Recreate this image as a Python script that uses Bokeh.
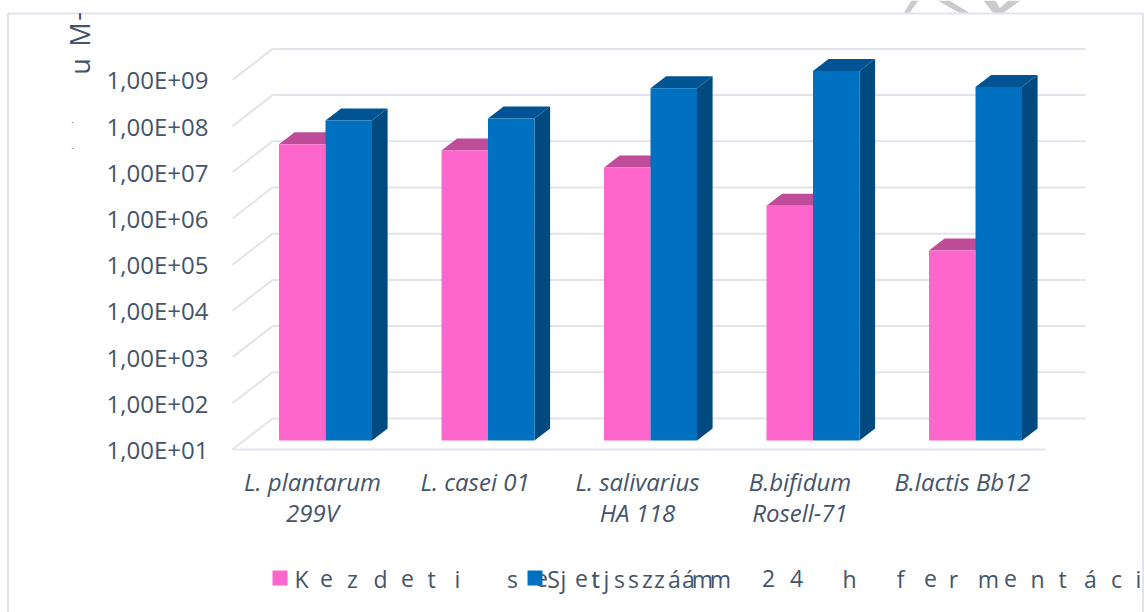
from bokeh.core.properties import value
from bokeh.embed import file_html
from bokeh.models import FixedTicker
from bokeh.plotting import figure
from bokeh.resources import INLINE
import math

# Viable cell counts per strain
strains = ["L. plantarum\n299V", "L. casei 01", "L. salivarius\nHA 118",
           "B.bifidum\nRosell-71", "B.lactis Bb12"]
initial_counts = [2.6e7, 1.9e7, 8.1e6, 1.2e6, 1.3e5]
counts_24h = [8.4e7, 9.3e7, 4.2e8, 1.0e9, 4.5e8]
tick_values = [10, 100, 1000, 10000, 100000, 1000000, 10000000, 100000000, 1000000000]
tick_labels = ["1,00E+01", "1,00E+02", "1,00E+03", "1,00E+04", "1,00E+05",
               "1,00E+06", "1,00E+07", "1,00E+08", "1,00E+09"]

# Spaced-out legend runs: (character, horizontal centre in page pixels)
legend_first = [("K", 301), ("e", 326), ("z", 352), ("d", 380), ("e", 407), ("t", 431), ("i", 457),
                ("s", 512), ("e", 541), ("j", 563), ("t", 595), ("s", 619), ("z", 647), ("á", 674), ("m", 702)]
legend_second = [("S", 553), ("e", 581), ("j", 606), ("t", 595), ("s", 633), ("z", 659), ("á", 688), ("m", 720),
                 ("2", 768), ("4", 796), ("h", 849), ("f", 900), ("e", 930), ("r", 953), ("m", 988),
                 ("e", 1010), ("n", 1037), ("t", 1062), ("á", 1090), ("c", 1116), ("i", 1138)]

W, H = 1144, 612
PX_PER_DECADE = 46.2
FLOOR_PY = 449
CAT_PX = 162.5
CAT0_PX = 312

INK = "#44546A"
GRID = "#E1E5EB"
PINK, PINK_TOP = "#FF66CC", "#BF4C99"
BLUE, BLUE_TOP, BLUE_SIDE = "#0070C0", "#005494", "#004A80"


def xd(px):
    return (px - CAT0_PX) / CAT_PX


def yd(py):
    return 10 ** (1 + (FLOOR_PY - py) / PX_PER_DECADE)


def lift(v, px):
    return v * 10 ** (px / PX_PER_DECADE)


p = figure(width=W, height=H, output_backend="svg", toolbar_location=None, y_axis_type="log",
           x_range=(xd(0), xd(W)), y_range=(yd(H), yd(0)), min_border=0,
           background_fill_color="white", border_fill_color="white")
p.outline_line_color = None
p.grid.visible = False

# Depth geometry of the 3D box, in pixels
WALL_DX, WALL_DY = 40, 31
BAR_DX, BAR_DY = 15.6, 12
BAR_LIFT = 9
BAR_W = 46.5 / CAT_PX
BAR_SHIFT = 13.0 / CAT_PX
BAR_D = BAR_DX / CAT_PX
FLOOR_L, FLOOR_R = 232, 1045

# Gridlines on the back wall with their returns along the side wall
p.segment(x0=[xd(FLOOR_L)] * len(tick_values), y0=tick_values,
          x1=[xd(FLOOR_L + WALL_DX)] * len(tick_values), y1=[lift(v, WALL_DY) for v in tick_values],
          line_color=GRID, line_width=2)
p.segment(x0=[xd(FLOOR_L + WALL_DX)] * len(tick_values), y0=[lift(v, WALL_DY) for v in tick_values],
          x1=[xd(FLOOR_R + WALL_DX)] * len(tick_values), y1=[lift(v, WALL_DY) for v in tick_values],
          line_color=GRID, line_width=2)
# Front edge of the floor
p.segment(x0=[xd(FLOOR_L)], y0=[tick_values[0]], x1=[xd(FLOOR_R)], y1=[tick_values[0]],
          line_color=GRID, line_width=2)


def box(left, top, face, top_face, side=None):
    base = lift(10, BAR_LIFT)
    t = lift(top, BAR_LIFT)
    if side:
        p.patch([left + BAR_W, left + BAR_W + BAR_D, left + BAR_W + BAR_D, left + BAR_W],
                [t, lift(t, BAR_DY), lift(base, BAR_DY), base], fill_color=side, line_color=None)
    p.patch([left, left + BAR_D, left + BAR_W + BAR_D, left + BAR_W],
            [t, lift(t, BAR_DY), lift(t, BAR_DY), t], fill_color=top_face, line_color=None)
    p.quad(left=left, right=left + BAR_W, bottom=base, top=t, fill_color=face, line_color=None)


for i, (a, b) in enumerate(zip(initial_counts, counts_24h)):
    box(i + BAR_SHIFT - BAR_W, a, PINK, PINK_TOP)
    box(i + BAR_SHIFT, b, BLUE, BLUE_TOP, BLUE_SIDE)

# Axes sit at fixed places inside the drawing area
p.yaxis.fixed_location = xd(FLOOR_L)
p.yaxis.ticker = FixedTicker(ticks=tick_values)
p.yaxis.major_label_overrides = dict(zip(tick_values, tick_labels))
p.yaxis.major_label_standoff = 18
p.xaxis.fixed_location = yd(FLOOR_PY)
p.xaxis.ticker = FixedTicker(ticks=list(range(len(strains))))
p.xaxis.major_label_overrides = dict(zip(range(len(strains)), strains))
p.xaxis.major_label_standoff = 9
p.xaxis.major_label_text_font_style = "italic"
p.xaxis.major_label_text_line_height = 0.95
for ax in (p.xaxis, p.yaxis):
    ax.axis_line_color = None
    ax.major_tick_line_color = None
    ax.minor_tick_line_color = None
    ax.major_label_text_font = "Open Sans"
    ax.major_label_text_color = INK
p.yaxis.major_label_text_font_size = "24px"
p.xaxis.major_label_text_font_size = "24px"

# Stroke fragments of the mark above the chart frame
mark = [
    [(903, 13), (908.5, 13), (918, 0), (911, 0)],
    [(937, 0), (949, 0), (970, 13), (960, 13)],
    [(983, 0), (995, 0), (1002, 13), (993, 13)],
    [(993, 13), (1002, 13), (1020, 0), (1008, 0)],
]
p.patches([[xd(x) for x, _ in m] for m in mark], [[yd(y) for _, y in m] for m in mark],
          fill_color="#CBCBCB", line_color=None)

# Chart frame
p.line([xd(x) for x in (7.5, 7.5, 1142.5, 1142.5)], [yd(y) for y in (H, 13, 13, H)],
       line_color=GRID, line_width=2)

# Rotated title fragments clipped at the top of the frame
p.text(x=[xd(79), xd(79), xd(76)], y=[yd(66), yd(34), yd(16)], text=["u", "M", "-"],
       angle=math.pi / 2, text_font=value("Open Sans"), text_font_size="27px", text_color=INK,
       text_align="center", text_baseline="alphabetic")
p.text(x=[xd(69), xd(69)], y=[yd(122), yd(148)], text=[".", "."], angle=math.pi / 2,
       text_font=value("Open Sans"), text_font_size="9px", text_color=INK,
       text_align="center", text_baseline="alphabetic")

# Legend
for run in (legend_first, legend_second):
    p.text(x=[xd(c[1]) for c in run], y=[yd(578)] * len(run), text=[c[0] for c in run],
           text_font=value("Open Sans"), text_font_size="23px", text_color=INK,
           text_align="center", text_baseline="alphabetic")
for left, color in ((272, PINK), (527, BLUE)):
    p.quad(left=xd(left), right=xd(left + 15), top=yd(570), bottom=yd(585), fill_color=color, line_color=None)

open("out.html", "w").write(file_html(p, INLINE))
